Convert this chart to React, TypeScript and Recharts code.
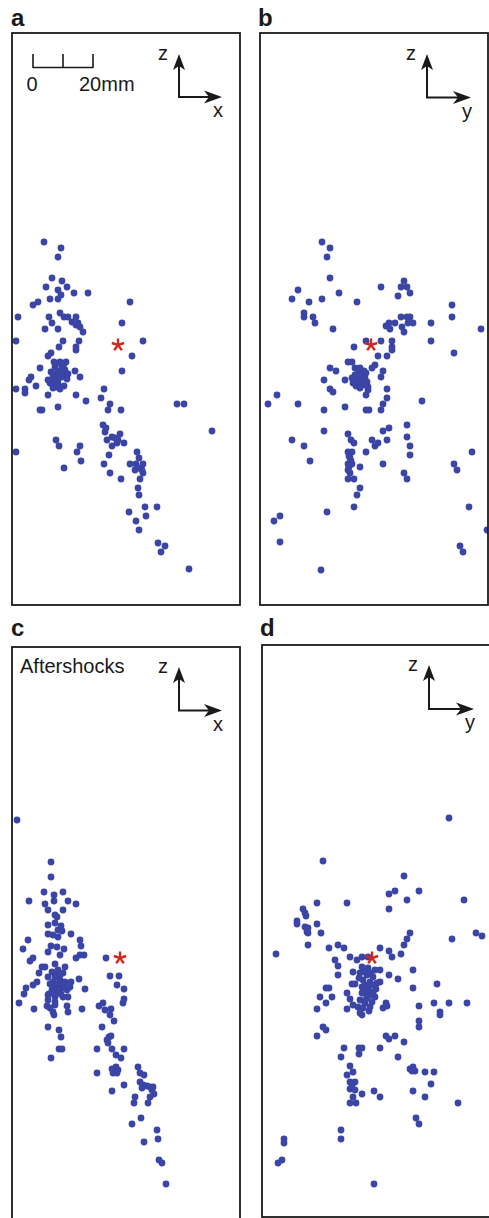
import React from "react";
import { ScatterChart, Scatter, XAxis, YAxis } from "recharts";

type Pt = [number, number];

// units: figure grid, 3 units = 1 mm, origin at the top-left of each frame, z down
const BOX_W = 228;
const BOX_H = 572;

const panelA: Pt[] = [
  [32, 209], [49, 215], [46, 224], [40, 245], [50, 248], [34, 254], [55, 254], [46, 257], [49, 262], [62, 260],
  [76, 260], [38, 266], [46, 266], [26, 269], [21, 272], [118, 269], [6, 284], [37, 284], [48, 280], [52, 284],
  [56, 284], [64, 284], [40, 290], [60, 289], [64, 292], [68, 294], [66, 290], [110, 290], [33, 296], [46, 296],
  [71, 299], [4, 308], [51, 308], [67, 308], [131, 308], [47, 314], [64, 314], [64, 317], [39, 320], [36, 323],
  [120, 323], [42, 329], [48, 329], [54, 329], [43, 334], [50, 334], [28, 335], [63, 338], [56, 341], [110, 338],
  [19, 344], [17, 347], [68, 344], [36, 347], [43, 346], [50, 344], [40, 351], [46, 351], [52, 353], [41, 355],
  [24, 353], [4, 356], [13, 356], [13, 360], [92, 356], [36, 362], [64, 362], [89, 365], [74, 368], [98, 371],
  [46, 374], [165, 371], [172, 371], [45, 340], [48, 338], [51, 343], [46, 347], [41, 344], [53, 337], [38, 350],
  [45, 354], [48, 356], [44, 331], [52, 331], [47, 341], [55, 346], [39, 339],
  [28, 377], [30, 377], [96, 377], [109, 377], [91, 392], [94, 395], [93, 399], [200, 398],
  [44, 407], [47, 413], [68, 413], [65, 419], [4, 419], [69, 428], [52, 435], [95, 407], [100, 404], [103, 405],
  [108, 401], [106, 407], [112, 410], [100, 413], [105, 410], [97, 422], [92, 431], [98, 440], [109, 446], [125, 419],
  [127, 425], [118, 431], [124, 431], [131, 431], [126, 435], [123, 437], [130, 437], [131, 440], [128, 446], [126, 455],
  [127, 462], [133, 474], [145, 474], [117, 479], [134, 483], [124, 488], [127, 497], [146, 510], [153, 513], [149, 519],
  [177, 536],
];
const mainA: Pt[] = [[106, 312]];

const panelB: Pt[] = [
  [62, 209], [70, 215], [67, 224], [70, 245], [38, 257], [32, 266], [49, 269], [62, 266], [79, 260], [97, 269],
  [121, 254], [144, 248], [141, 254], [147, 254], [150, 260], [138, 263], [44, 280], [44, 284], [53, 284], [55, 290],
  [73, 296], [192, 272], [192, 284], [171, 290], [221, 296], [141, 284], [147, 284], [150, 284], [135, 290], [129, 290],
  [126, 293], [130, 296], [142, 294], [148, 290], [153, 290], [144, 299], [171, 308], [106, 308], [121, 308], [132, 308],
  [132, 314], [132, 317], [94, 314], [194, 320], [118, 323], [127, 323], [88, 329], [92, 329], [70, 335], [76, 338],
  [95, 335], [100, 335], [112, 335], [115, 332], [123, 338], [121, 344], [64, 347], [85, 347], [95, 342], [102, 340],
  [105, 345], [98, 349], [93, 350], [103, 352], [108, 354], [100, 355], [97, 345], [107, 349], [99, 338], [104, 338],
  [92, 345], [101, 347], [96, 353], [100, 344], [104, 350], [97, 348], [106, 340],
  [70, 356], [73, 359], [106, 362], [127, 356], [127, 365], [123, 371], [17, 362],
  [8, 371], [38, 371], [85, 374], [162, 368], [108, 357], [64, 377], [106, 377], [109, 377], [121, 377], [147, 392],
  [123, 398], [129, 395], [64, 398], [32, 407], [44, 413], [50, 428], [88, 401], [91, 407], [94, 410], [88, 419],
  [92, 419], [90, 425], [88, 431], [92, 431], [88, 437], [90, 440], [88, 446], [94, 446], [89, 423], [91, 428],
  [89, 434], [100, 434], [106, 419], [112, 407], [115, 413], [118, 410], [127, 407], [123, 431], [147, 404], [150, 413],
  [150, 422], [144, 440], [147, 446], [100, 455], [97, 462], [94, 474], [67, 479], [20, 483], [14, 488], [20, 509],
  [61, 537], [212, 419], [194, 431], [197, 437], [209, 474], [227, 497], [200, 513], [203, 519],
];
const mainB: Pt[] = [[111, 312]];

const panelC: Pt[] = [
  [5, 173], [39, 215], [39, 230], [32, 245], [51, 245], [42, 248], [42, 254], [17, 254], [56, 254], [64, 257],
  [33, 257], [36, 263], [51, 263], [43, 268], [45, 270], [36, 278], [43, 276], [49, 279], [46, 283], [50, 284],
  [36, 287], [41, 288], [46, 290], [59, 287], [68, 293], [69, 299], [16, 293], [11, 302], [39, 299], [45, 300],
  [52, 302], [36, 305], [48, 308], [64, 311], [68, 308], [72, 308], [21, 311], [18, 314], [43, 317], [30, 320],
  [33, 320], [27, 326], [53, 320], [40, 325], [46, 323], [51, 326], [43, 330], [48, 333], [41, 335], [53, 335],
  [45, 338], [50, 341], [40, 343], [55, 343], [46, 346], [43, 350], [51, 350], [36, 330], [58, 340], [67, 332],
  [44, 327], [48, 328], [42, 340], [47, 336], [52, 338], [44, 344], [49, 347], [38, 337],
  [59, 335], [73, 342], [25, 335], [21, 338], [14, 341], [12, 347], [37, 347], [94, 311], [98, 329], [107, 329],
  [105, 338], [112, 342], [112, 352], [7, 356], [22, 362], [36, 348], [41, 346], [46, 345], [56, 350], [55, 359],
  [56, 365], [35, 359], [38, 361], [41, 365], [42, 368], [36, 353], [43, 355], [43, 358], [70, 362], [36, 380],
  [47, 383], [49, 390], [47, 402], [50, 402], [39, 411], [111, 356], [87, 359], [91, 356], [93, 363], [99, 362],
  [98, 368], [102, 374], [90, 380], [97, 390], [99, 389], [95, 393], [96, 396], [85, 402], [100, 402], [112, 402],
  [104, 408], [109, 411], [100, 422], [104, 420], [106, 423], [101, 426], [105, 426], [85, 426], [100, 444], [112, 438],
  [126, 420], [128, 426], [132, 428], [128, 435], [131, 438], [130, 441], [135, 439], [138, 440], [141, 440], [140, 443],
  [142, 447], [138, 450], [136, 456], [123, 450], [122, 456], [129, 471], [120, 477], [145, 483], [146, 492], [132, 495],
  [147, 513], [150, 516], [154, 537],
];
const mainC: Pt[] = [[108, 311]];

const panelD: Pt[] = [
  [187, 173], [61, 216], [142, 231], [133, 246], [127, 249], [157, 246], [145, 255], [202, 255], [127, 264], [55, 258],
  [85, 258], [41, 264], [43, 268], [44, 271], [35, 276], [35, 279], [43, 282], [46, 283], [45, 287], [46, 288],
  [55, 279], [59, 288], [46, 300], [14, 309], [67, 303], [76, 300], [82, 303], [73, 315], [76, 321], [76, 330],
  [88, 312], [95, 315], [100, 312], [91, 327], [118, 303], [127, 306], [130, 312], [139, 309], [142, 300], [145, 294],
  [148, 288], [190, 294], [214, 288], [220, 291], [118, 325], [127, 330], [136, 334], [151, 325], [151, 343], [175, 339],
  [100, 322], [106, 323], [113, 325], [98, 328], [105, 330], [111, 332], [101, 335], [108, 337], [115, 338], [90, 339],
  [93, 339], [100, 342], [106, 343], [111, 347], [101, 348], [108, 350], [113, 352], [105, 353], [118, 337], [106, 312],
  [103, 327], [109, 328], [103, 340], [110, 340], [104, 346], [97, 333], [114, 344], [103, 358], [107, 366], [102, 356],
  [64, 343], [67, 343], [58, 352], [70, 352], [85, 348], [64, 358], [55, 364], [85, 364], [88, 354], [91, 360],
  [100, 348], [106, 348], [111, 349], [98, 355], [105, 353], [110, 357], [96, 362], [101, 363], [108, 362], [98, 368],
  [100, 370], [121, 363], [124, 358], [125, 361], [157, 361], [172, 358], [187, 358], [205, 358], [178, 367], [178, 370],
  [157, 376], [157, 382], [61, 382], [64, 385], [55, 391], [124, 391], [127, 394], [133, 391], [142, 397], [82, 403],
  [79, 412], [97, 403], [100, 403], [97, 409], [118, 403], [136, 412], [88, 421], [91, 427], [85, 430], [88, 437],
  [93, 437], [90, 440], [88, 444], [93, 445], [91, 452], [88, 458], [94, 458], [100, 449], [112, 446], [118, 452],
  [148, 424], [151, 422], [153, 426], [150, 426], [163, 427], [172, 427], [169, 439], [151, 446], [163, 452], [196, 458],
  [154, 473], [157, 479], [79, 485], [79, 494], [22, 494], [22, 498], [20, 515], [16, 518], [112, 539],
];
const mainD: Pt[] = [[110, 313]];

const DOT = "#3a45a6";
const RED = "#cf2a20";
const INK = "#1a1a1a";
const FONT = "'Liberation Sans', Arial, Helvetica, sans-serif";

const rows = (pts: Pt[]) => pts.map(([x, z]) => ({ x, z }));

const Dot = (props: any) => <circle cx={props.cx} cy={props.cy} r={3.4} fill={DOT} />;

const Star = (props: any) => {
  const { cx, cy } = props;
  const len = 6.5;
  return (
    <g stroke={RED} strokeWidth={2.4}>
      {[0, 72, 144, 216, 288].map((a) => {
        const r = ((a - 90) * Math.PI) / 180;
        return <line key={a} x1={cx} y1={cy} x2={cx + len * Math.cos(r)} y2={cy + len * Math.sin(r)} />;
      })}
    </g>
  );
};

const Panel = ({ left, top, events, main }: { left: number; top: number; events: Pt[]; main: Pt[] }) => (
  <div style={{ position: "absolute", left, top }}>
    <ScatterChart width={BOX_W} height={BOX_H} margin={{ top: 0, right: 0, bottom: 0, left: 0 }}>
      <XAxis type="number" dataKey="x" domain={[0, BOX_W]} hide />
      <YAxis type="number" dataKey="z" domain={[0, BOX_H]} reversed hide />
      <Scatter data={rows(events)} shape={Dot} isAnimationActive={false} />
      <Scatter data={rows(main)} shape={Star} isAnimationActive={false} />
    </ScatterChart>
  </div>
);

// z-up / horizontal-right axis glyph, corner at (x, y)
const Axes = ({ x, y, up, right, h }: { x: number; y: number; up: number; right: number; h: string }) => (
  <g>
    <line x1={x} y1={y} x2={x} y2={up + 10} stroke={INK} strokeWidth={2} />
    <line x1={x - 1} y1={y} x2={right - 10} y2={y} stroke={INK} strokeWidth={2} />
    <polygon points={`${x},${up} ${x + 6},${up + 16} ${x},${up + 12} ${x - 6},${up + 16}`} fill={INK} />
    <polygon points={`${right},${y} ${right - 18},${y - 6.5} ${right - 13},${y} ${right - 18},${y + 6.5}`} fill={INK} />
    <text x={x - 21} y={up + 6} fontSize={20} fontFamily={FONT} fill={INK}>z</text>
    <text x={right - 9} y={y + 20} fontSize={20} fontFamily={FONT} fill={INK}>{h}</text>
  </g>
);

export default function App() {
  return (
    <div style={{ position: "absolute", left: 0, top: 0, width: 489, height: 1218, overflow: "hidden", background: "#fff" }}>
      <Panel left={12} top={33} events={panelA} main={mainA} />
      <Panel left={260} top={33} events={panelB} main={mainB} />
      <Panel left={12} top={647} events={panelC} main={mainC} />
      <Panel left={262} top={645} events={panelD} main={mainD} />
      <svg width={489} height={1218} style={{ position: "absolute", left: 0, top: 0, pointerEvents: "none" }}>
        <rect x={12} y={33} width={BOX_W} height={BOX_H} fill="none" stroke={INK} strokeWidth={1.8} />
        <rect x={260} y={33} width={BOX_W} height={BOX_H} fill="none" stroke={INK} strokeWidth={1.8} />
        <rect x={12} y={647} width={BOX_W} height={BOX_H} fill="none" stroke={INK} strokeWidth={1.8} />
        <rect x={262} y={645} width={BOX_W + 4} height={BOX_H} fill="none" stroke={INK} strokeWidth={1.8} />

        <g fontFamily={FONT} fontWeight="bold" fontSize={24} fill={INK}>
          <text x={11} y={26}>a</text>
          <text x={258} y={26}>b</text>
          <text x={11} y={636}>c</text>
          <text x={260} y={636}>d</text>
        </g>

        <g stroke={INK} strokeWidth={1.6}>
          <line x1={33} y1={67.5} x2={93} y2={67.5} />
          <line x1={33} y1={54} x2={33} y2={68} />
          <line x1={63} y1={54} x2={63} y2={68} />
          <line x1={93} y1={54} x2={93} y2={68} />
        </g>
        <text x={32} y={91} textAnchor="middle" fontSize={20} fontFamily={FONT} fill={INK}>0</text>
        <text x={79} y={91} fontSize={20} fontFamily={FONT} fill={INK}>20mm</text>

        <text x={20} y={673} fontSize={20} fontFamily={FONT} fill={INK}>Aftershocks</text>

        <Axes x={179} y={97} up={54} right={222} h="x" />
        <Axes x={427} y={97.5} up={54} right={471} h="y" />
        <Axes x={179} y={710.5} up={667} right={222} h="x" />
        <Axes x={429} y={709} up={665} right={474} h="y" />
      </svg>
    </div>
  );
}
